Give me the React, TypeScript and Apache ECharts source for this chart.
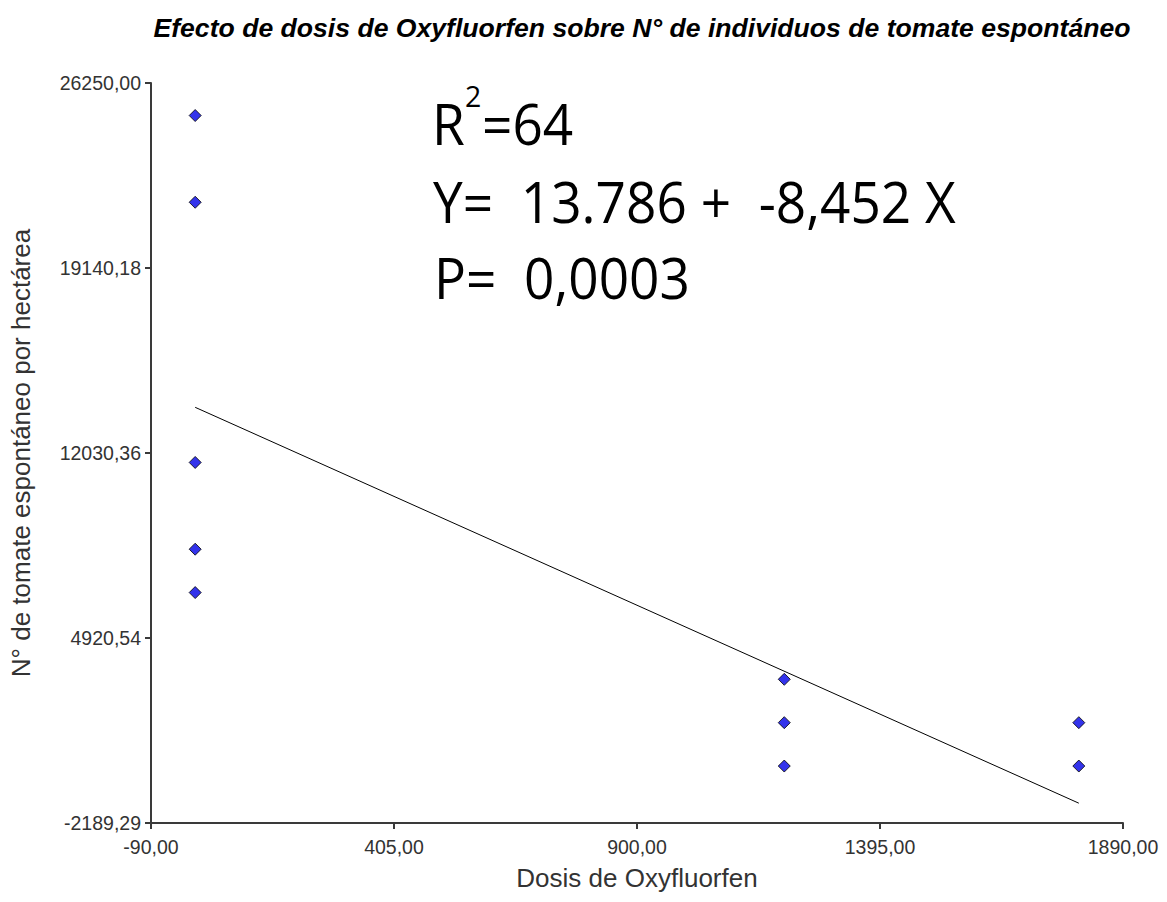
import React, { useEffect, useRef } from "react";
import * as echarts from "echarts";

const titleText = "Efecto de dosis de Oxyfluorfen sobre N° de individuos de tomate espontáneo";
const xAxisName = "Dosis de Oxyfluorfen";
const yAxisName = "N° de tomate espontáneo por hectárea";

const doses = [0, 0, 0, 0, 0, 1200, 1200, 1200, 1800, 1800];
const counts = [25000, 21667, 11667, 8333, 6667, 3333, 1667, 0, 1667, 0];

const xTicks = [-90, 405, 900, 1395, 1890];
const yTicks = [-2189.29, 4920.54, 12030.36, 19140.18, 26250.0];

const regIntercept = 13786;
const regSlope = -8.452;
const regRange = [0, 1800];

const annR = "R";
const annSup = "2";
const annR2 = "=64";
const annEq = "Y=  13.786 +  -8,452 X";
const annP = "P=  0,0003";

const fmt = (v: number) => v.toFixed(2).replace(".", ",");

export default function App() {
  const ref = useRef<HTMLDivElement>(null);
  useEffect(() => {
    document.body.style.margin = "0";
    const chart = echarts.init(ref.current!, null, { renderer: "svg" });
    const scatterData = doses.map((d, i) => [d, counts[i]]);
    const lineData = regRange.map((x) => [x, regIntercept + regSlope * x]);
    const axisColor = "#3a3a3a";
    const labelFont = "Liberation Sans, Arial, sans-serif";
    const annFont = "56px 'Open Sans'";
    const sx = 0.95;
    chart.setOption({
      animation: false,
      backgroundColor: "#fff",
      title: {
        text: titleText,
        left: 637,
        top: 9,
        textAlign: "center",
        textStyle: {
          fontFamily: labelFont,
          fontWeight: "bold",
          fontStyle: "italic",
          fontSize: 26.6,
          color: "#000",
        },
      },
      grid: { left: 145, right: 44, top: 83, bottom: 79 },
      xAxis: {
        type: "value",
        min: xTicks[0],
        max: xTicks[xTicks.length - 1],
        name: xAxisName,
        nameLocation: "middle",
        nameGap: 42,
        nameTextStyle: { fontFamily: labelFont, fontSize: 26, color: "#333" },
        splitLine: { show: false },
        axisLine: { onZero: false, lineStyle: { color: axisColor, width: 2 } },
        axisTick: { show: true, length: 6, lineStyle: { color: axisColor, width: 2 }, customValues: xTicks },
        axisLabel: {
          customValues: xTicks,
          formatter: (v: number) => fmt(v),
          fontFamily: labelFont,
          fontSize: 19.5,
          color: "#333",
          margin: 14,
        },
      },
      yAxis: {
        type: "value",
        min: yTicks[0],
        max: yTicks[yTicks.length - 1],
        name: yAxisName,
        nameLocation: "middle",
        nameGap: 117,
        nameTextStyle: { fontFamily: labelFont, fontSize: 26, color: "#333" },
        splitLine: { show: false },
        axisLine: { show: true, onZero: false, lineStyle: { color: axisColor, width: 2 } },
        axisTick: { show: true, length: 6, lineStyle: { color: axisColor, width: 2 }, customValues: yTicks },
        axisLabel: {
          customValues: yTicks,
          formatter: (v: number) => fmt(v),
          fontFamily: labelFont,
          fontSize: 19.5,
          color: "#333",
          margin: 10,
        },
      },
      series: [
        {
          type: "line",
          data: lineData,
          symbol: "none",
          lineStyle: { color: "#000", width: 1 },
          z: 2,
        },
        {
          type: "scatter",
          data: scatterData,
          symbol: "diamond",
          symbolSize: 12,
          itemStyle: { color: "#0000e6", borderColor: "#000", borderWidth: 1 },
          z: 3,
        },
      ],
      graphic: [
        {
          type: "text",
          x: 432,
          y: 95,
          scaleX: sx,
          style: { text: annR, font: annFont, fill: "#000" },
        },
        {
          type: "text",
          x: 465,
          y: 81,
          scaleX: sx,
          style: { text: annSup, font: "30px 'Open Sans'", fill: "#000" },
        },
        {
          type: "text",
          x: 482,
          y: 95,
          scaleX: sx,
          style: { text: annR2, font: annFont, fill: "#000" },
        },
        {
          type: "text",
          x: 433,
          y: 173,
          scaleX: sx,
          style: { text: annEq, font: annFont, fill: "#000" },
        },
        {
          type: "text",
          x: 434,
          y: 249,
          scaleX: sx,
          style: { text: annP, font: annFont, fill: "#000" },
        },
      ],
    });
    return () => chart.dispose();
  }, []);
  return <div ref={ref} style={{ width: 1167, height: 902 }} />;
}
